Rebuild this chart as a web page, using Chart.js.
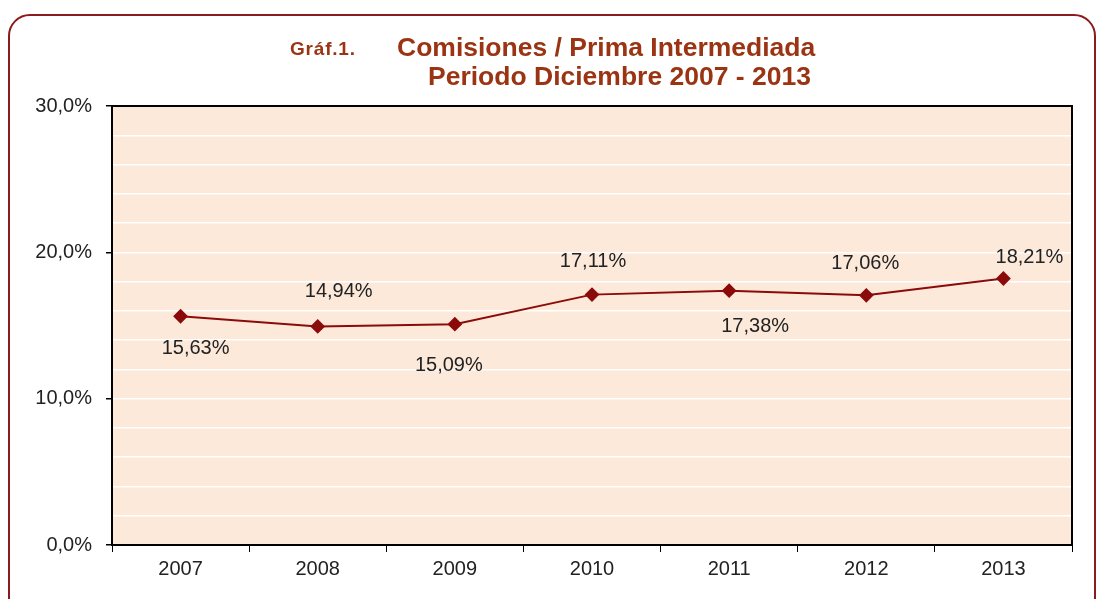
<!DOCTYPE html>
<html>
<head>
<meta charset="utf-8">
<script src="https://cdn.jsdelivr.net/npm/chart.js@4"></script>
<style>
  body { margin: 0; background: #fff; font-family: "Liberation Sans", Arial, sans-serif; }
  #wrap { position: relative; width: 1102px; height: 599px; overflow: hidden; }
  #frame { position: absolute; left: 8px; top: 14px; width: 1084px; height: 620px;
           border: 2px solid #8e1b1b; border-radius: 22px; }
  canvas { position: absolute; left: 0; top: 0; }
  .t { position: absolute; color: #9a3412; font-weight: bold; white-space: nowrap; }
</style>
</head>
<body>
<div id="wrap">
  <div id="frame"></div>
  <canvas id="c" width="1102" height="599"></canvas>
  <div class="t" style="left:290px;top:38px;font-size:19px;letter-spacing:0.8px;">Gráf.1.</div>
  <div class="t" style="left:397px;top:32px;font-size:26.5px;">Comisiones / Prima Intermediada</div>
  <div class="t" style="left:428px;top:61px;font-size:26.5px;">Periodo Diciembre 2007 - 2013</div>
</div>
<script>
const years = ["2007", "2008", "2009", "2010", "2011", "2012", "2013"];
const ratio = [15.63, 14.94, 15.09, 17.11, 17.38, 17.06, 18.21];
const yTicks = [0, 10, 20, 30];
// label offsets from each point (dx, dy)
const labelDx = [15, 21, -6, 1, 26, -1, 26];
const labelDy = [32, -35, 41, -33, 36, -32, -21];

const fmt = v => v.toFixed(2).replace(".", ",") + "%";
const FONT = "'Liberation Sans', Arial, sans-serif";

const plotBox = {
  id: "plotBox",
  beforeDraw(chart) {
    const { ctx, chartArea: a } = chart;
    ctx.save();
    ctx.fillStyle = "#fde9da";
    ctx.fillRect(a.left, a.top, a.width, a.height);
    ctx.restore();
  },
  afterDatasetsDraw(chart) {
    const { ctx, chartArea: a } = chart;
    ctx.save();
    ctx.strokeStyle = "#000";
    ctx.lineWidth = 2;
    ctx.strokeRect(a.left, a.top, a.width, a.height);
    const meta = chart.getDatasetMeta(0);
    ctx.font = "20px " + FONT;
    ctx.fillStyle = "#222";
    ctx.textAlign = "center";
    ctx.textBaseline = "middle";
    meta.data.forEach((pt, i) => {
      ctx.fillText(fmt(ratio[i]), pt.x + labelDx[i], pt.y + labelDy[i]);
    });
    ctx.restore();
  }
};

new Chart(document.getElementById("c"), {
  type: "line",
  data: {
    labels: years,
    datasets: [{
      data: ratio,
      borderColor: "#8b0a0a",
      borderWidth: 2,
      pointStyle: "rectRot",
      pointRadius: 6,
      pointBackgroundColor: "#8b0a0a",
      pointBorderColor: "#8b0a0a",
      tension: 0
    }]
  },
  options: {
    responsive: false,
    animation: false,
    layout: { padding: { top: 106, right: 30, left: 0, bottom: 0 } },
    plugins: { legend: { display: false }, tooltip: { enabled: false } },
    scales: {
      x: {
        offset: true,
        grid: { offset: true, drawOnChartArea: false, tickLength: 7, tickColor: "#000", lineWidth: 1 },
        border: { color: "#000", width: 2 },
        ticks: { color: "#222", font: { size: 20, family: FONT }, padding: 5 },
        afterFit(s) { s.height = 54; }
      },
      y: {
        min: 0, max: 30,
        grid: {
          color: "#ffffff",
          lineWidth: 1.5,
          tickLength: 6,
          tickColor: c => yTicks.includes(c.tick.value) ? "#000" : "rgba(0,0,0,0)"
        },
        border: { color: "#000", width: 2 },
        ticks: {
          stepSize: 2,
          autoSkip: false,
          color: "#222",
          font: { size: 20, family: FONT },
          padding: 14,
          callback: v => yTicks.includes(v) ? v.toFixed(1).replace(".", ",") + "%" : ""
        },
        afterFit(s) { s.width = 112; }
      }
    }
  },
  plugins: [plotBox]
});
</script>
</body>
</html>
